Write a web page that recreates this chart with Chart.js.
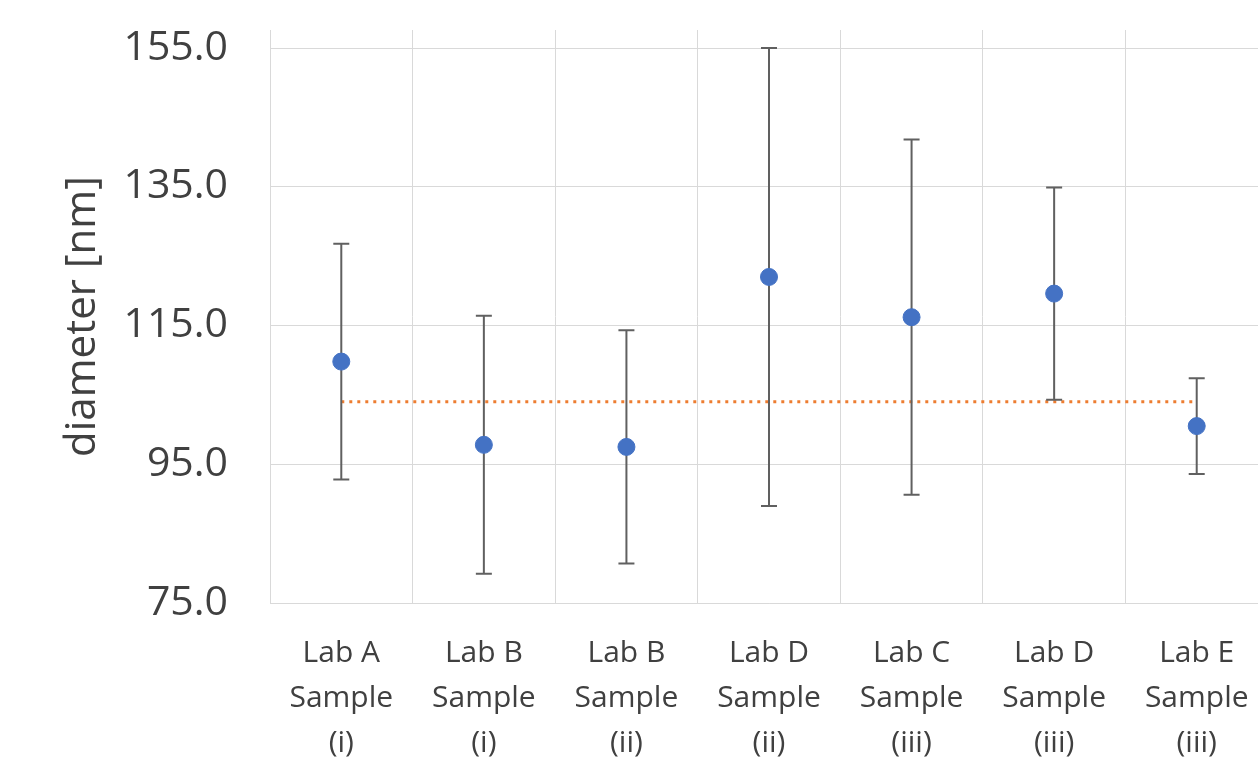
<!DOCTYPE html>
<html>
<head>
<meta charset="utf-8">
<script src="https://cdn.jsdelivr.net/npm/chart.js@4"></script>
<style>
  html, body { margin: 0; padding: 0; background: #fff; overflow: hidden; }
  canvas { display: block; }
</style>
</head>
<body>
<canvas id="chart" width="1268" height="767"></canvas>
<script>
const labels = [
  ['Lab A', 'Sample', '(i)'],
  ['Lab B', 'Sample', '(i)'],
  ['Lab B', 'Sample', '(ii)'],
  ['Lab D', 'Sample', '(ii)'],
  ['Lab C', 'Sample', '(iii)'],
  ['Lab D', 'Sample', '(iii)'],
  ['Lab E', 'Sample', '(iii)']
];
const diameters = [109.8, 97.8, 97.5, 122.0, 116.2, 119.6, 100.5];
const errors = [17.0, 18.6, 16.8, 33.0, 25.6, 15.3, 6.9];
const refValues = [104.0, 104.0, 104.0, 104.0, 104.0, 104.0, 104.0];
const yTicks = [75, 95, 115, 135, 155];

const FONT = "'Open Sans', sans-serif";
const gridColor = '#d9d9d9';

// ---------- Error bars ----------
const errorBars = {
  id: 'errorBars',
  beforeDatasetDraw(chart, args) {
    if (args.index !== 0) return;
    const ctx = chart.ctx;
    const x = chart.scales.x, y = chart.scales.y;
    ctx.save();
    ctx.strokeStyle = '#606060';
    ctx.lineWidth = 2;
    diameters.forEach((v, i) => {
      const px = x.getPixelForValue(i);
      const top = y.getPixelForValue(v + errors[i]);
      const bot = y.getPixelForValue(v - errors[i]);
      ctx.beginPath();
      ctx.moveTo(px, top); ctx.lineTo(px, bot);
      ctx.moveTo(px - 8, top); ctx.lineTo(px + 8, top);
      ctx.moveTo(px - 8, bot); ctx.lineTo(px + 8, bot);
      ctx.stroke();
    });
    ctx.restore();
  }
};

new Chart(document.getElementById('chart'), {
  type: 'line',
  data: {
    labels,
    datasets: [
      {
        label: 'diameter',
        data: diameters,
        showLine: false,
        pointRadius: 8.5,
        pointBackgroundColor: '#4472C4',
        pointBorderColor: '#4472C4',
        order: 0
      },
      {
        label: 'reference',
        data: refValues,
        borderColor: '#ED7D31',
        borderWidth: 3,
        borderDash: [3, 5],
        pointRadius: 0,
        fill: false,
        order: 1
      }
    ]
  },
  options: {
    responsive: false,
    animation: false,
    layout: { autoPadding: false, padding: { top: 30, left: 0, right: 0, bottom: 0 } },
    plugins: { legend: { display: false }, tooltip: { enabled: false } },
    scales: {
      x: {
        offset: true,
        grid: { offset: true, color: gridColor, lineWidth: 1, drawTicks: false },
        border: { color: gridColor, width: 1 },
        afterFit(scale) { scale.height = 164; scale.paddingLeft = 0; scale.paddingRight = 0; },
        ticks: {
          color: '#404040',
          padding: 28,
          maxRotation: 0,
          autoSkip: false,
          font: { family: FONT, size: 30, lineHeight: 1.5 }
        }
      },
      y: {
        min: 75,
        max: 157.6,
        afterBuildTicks(scale) { scale.ticks = yTicks.map(v => ({ value: v })); },
        afterFit(scale) { scale.width = 270; scale.paddingTop = 0; scale.paddingBottom = 0; },
        grid: { color: gridColor, lineWidth: 1, drawTicks: false },
        border: { color: gridColor, width: 1 },
        ticks: {
          color: '#404040',
          padding: 42,
          font: { family: FONT, size: 41 },
          callback: v => Number(v).toFixed(1)
        },
        title: {
          display: true,
          text: 'diameter [nm]',
          color: '#404040',
          font: { family: FONT, size: 42 },
          padding: { top: 58, bottom: 0 }
        }
      }
    }
  },
  plugins: [errorBars]
});
</script>
</body>
</html>
